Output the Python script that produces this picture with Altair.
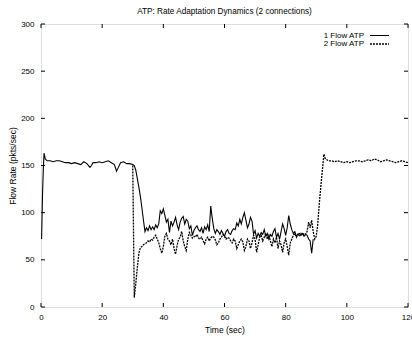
import altair as alt
import pandas as pd

# ---------------- text ----------------
chart_title = "ATP: Rate Adaptation Dynamics (2 connections)"
x_title = "Time (sec)"
y_title = "Flow Rate (pkts/sec)"
series = ["1 Flow ATP", "2 Flow ATP"]
x_ticks = [0, 20, 40, 60, 80, 100, 120]
y_ticks = [0, 50, 100, 150, 200, 250, 300]

# ---------------- data ----------------
time_mid = [
    34.0, 34.5, 35.0, 35.5, 36.0, 36.5, 37.0, 37.5, 38.0, 38.5,
    39.0, 39.5, 40.0, 40.5, 41.0, 41.5, 42.0, 42.5, 43.0, 43.5,
    44.0, 44.5, 45.0, 45.5, 46.0, 46.5, 47.0, 47.5, 48.0, 48.5,
    49.0, 49.5, 50.0, 50.5, 51.0, 51.5, 52.0, 52.5, 53.0, 53.5,
    54.0, 54.5, 55.0, 55.5, 56.0, 56.5, 57.0, 57.5, 58.0, 58.5,
    59.0, 59.5, 60.0, 60.5, 61.0, 61.5, 62.0, 62.5, 63.0, 63.5,
    64.0, 64.5, 65.0, 65.5, 66.0, 66.5, 67.0, 67.5, 68.0, 68.5,
    69.0, 69.5, 70.0, 70.5, 71.0, 71.5, 72.0, 72.5, 73.0, 73.5,
    74.0, 74.5, 75.0, 75.5, 76.0, 76.5, 77.0, 77.5, 78.0, 78.5,
    79.0, 79.5, 80.0, 80.5, 81.0, 81.5, 82.0, 82.5, 83.0, 83.5,
    84.0, 84.5, 85.0, 85.5, 86.0, 86.5, 87.0, 87.5, 88.0, 88.5,
    89.0, 89.5, 90.0,
]

flow1_time_start = [0.2, 0.5, 0.8, 1.0, 1.4, 2, 3, 4, 5, 6, 7, 8, 9, 10, 11,
                    12, 13, 14, 15, 16, 16.5, 17, 18, 19, 20, 21, 22, 23, 24,
                    24.7, 25.3, 26, 27, 28, 29, 30, 30.5, 31, 31.5, 32, 32.5,
                    33, 33.5]
flow1_rate_start = [72, 120, 150, 163, 157, 155, 155, 154, 155, 155, 154, 153,
                    153, 152, 153, 152, 151, 154, 152, 148, 150, 153, 153, 154,
                    153, 154, 155, 153, 151, 144, 148, 153, 154, 152, 152, 151,
                    150, 145, 136, 127, 117, 105, 92]
flow1_rate_mid = [
    80, 84, 81, 86, 82, 85, 82, 87, 84, 88,
    102, 99, 104, 97, 90, 93, 79, 91, 86, 90,
    95, 87, 82, 90, 94, 96, 88, 93, 91, 83,
    86, 76, 81, 84, 86, 82, 80, 84, 78, 85,
    82, 87, 80, 107, 94, 83, 78, 82, 80, 77,
    81, 78, 75, 80, 82, 78, 77, 81, 83, 82,
    89, 86, 93, 88, 95, 100, 92, 84, 88, 95,
    91, 77, 81, 73, 78, 75, 79, 77, 82, 75,
    78, 72, 77, 75, 80, 83, 74, 78, 72, 80,
    88, 83, 76, 84, 97, 88, 82, 78, 80, 75,
    77, 78, 76, 78, 75, 77, 76, 72, 70, 57,
    72,
]

flow2_time_start = [30.0, 30.5, 31.0, 31.5, 32.0, 32.5, 33.0, 33.5]
flow2_rate_start = [150, 10, 25, 42, 57, 63, 64, 66]
flow2_rate_mid = [
    67, 68, 70, 69, 72, 71, 74, 76, 72, 68,
    62, 57, 64, 75, 78, 72, 70, 66, 72, 62,
    56, 65, 72, 74, 80, 70, 64, 60, 72, 79,
    76, 73, 75, 74, 77, 73, 72, 74, 70, 67,
    72, 74, 70, 73, 75, 74, 71, 66, 68, 72,
    74, 77, 75, 72, 74, 73, 70, 68, 72, 70,
    62, 66, 70, 72, 69, 60, 64, 72, 70, 62,
    68, 76, 72, 58, 66, 74, 76, 70, 74, 78,
    72, 76, 70, 64, 72, 68, 74, 62, 70, 66,
    58, 68, 72, 64, 55, 68, 72, 76, 78, 74,
    77, 75, 78, 76, 78, 77, 80, 90, 84, 92,
    80, 72, 75,
]
flow2_time_end = [90.5, 91.0, 91.5, 92.0, 92.5, 93, 94, 95, 96, 97, 98, 99,
                  100, 101, 102, 103, 104, 105, 106, 107, 108, 109, 110, 111,
                  112, 113, 114, 115, 116, 117, 118, 119, 120]
flow2_rate_end = [88, 110, 128, 145, 162, 157, 155, 155, 154, 155, 154, 153,
                  154, 153, 154, 155, 155, 154, 155, 156, 155, 157, 156, 154,
                  155, 156, 155, 154, 153, 154, 155, 154, 153]

df1 = pd.DataFrame({
    "time": flow1_time_start + time_mid[:len(flow1_rate_mid)],
    "rate": flow1_rate_start + flow1_rate_mid,
})
df2 = pd.DataFrame({
    "time": flow2_time_start + time_mid[:len(flow2_rate_mid)] + flow2_time_end,
    "rate": flow2_rate_start + flow2_rate_mid + flow2_rate_end,
})

# ---------------- layout ----------------
W, H = 367, 283
FONT = "Liberation Sans"
TICK = 4

xs = alt.Scale(domain=[0, 120], nice=False, zero=False)
ys = alt.Scale(domain=[0, 300], nice=False, zero=False)

axis_style = dict(labelFont=FONT, labelFontSize=8, labelColor="black",
                  titleFont=FONT, titleFontSize=8.5, titleFontWeight="normal",
                  titleColor="black", grid=False, domain=False, ticks=False,
                  format="d")
x_axis = alt.Axis(values=x_ticks, title=x_title, labelPadding=6, titlePadding=4,
                  labelFlush=False, **axis_style)
y_axis = alt.Axis(values=y_ticks, title=y_title, labelPadding=7, titlePadding=3,
                  **axis_style)

line1 = alt.Chart(df1).mark_line(color="black", strokeWidth=1.1).encode(
    x=alt.X("time:Q", scale=xs, axis=x_axis),
    y=alt.Y("rate:Q", scale=ys, axis=y_axis),
)
line2 = alt.Chart(df2).mark_line(color="black", strokeWidth=1.3,
                                 strokeDash=[2, 1]).encode(
    x=alt.X("time:Q", scale=xs, axis=x_axis),
    y=alt.Y("rate:Q", scale=ys, axis=y_axis),
)

xt = pd.DataFrame({"v": x_ticks})
yt = pd.DataFrame({"v": y_ticks})
tick_bottom = alt.Chart(xt).mark_rule(color="black", strokeWidth=1).encode(
    x=alt.X("v:Q", scale=xs, axis=x_axis), y=alt.value(H), y2=alt.value(H - TICK))
tick_top = alt.Chart(xt).mark_rule(color="black", strokeWidth=1).encode(
    x=alt.X("v:Q", scale=xs, axis=x_axis), y=alt.value(0), y2=alt.value(TICK))
tick_left = alt.Chart(yt).mark_rule(color="black", strokeWidth=1).encode(
    y=alt.Y("v:Q", scale=ys, axis=y_axis), x=alt.value(0), x2=alt.value(TICK))
tick_right = alt.Chart(yt).mark_rule(color="black", strokeWidth=1).encode(
    y=alt.Y("v:Q", scale=ys, axis=y_axis), x=alt.value(W), x2=alt.value(W - TICK))

legend_layers = []
dashes = [[1, 0], [2, 1]]
widths = [1.1, 1.3]
for i, name in enumerate(series):
    yy = 11.5 + 8.5 * i
    ld = pd.DataFrame({"flow": [name]})
    legend_layers.append(
        alt.Chart(ld).mark_text(align="right", baseline="middle", font=FONT,
                                fontSize=8, color="black").encode(
            text="flow:N", x=alt.value(323), y=alt.value(yy)))
    legend_layers.append(
        alt.Chart(ld).mark_rule(color="black", strokeWidth=widths[i],
                                strokeDash=dashes[i]).encode(
            x=alt.value(329), x2=alt.value(348), y=alt.value(yy)))

chart = alt.layer(
    line1, line2, tick_bottom, tick_top, tick_left, tick_right, *legend_layers
).properties(
    width=W, height=H,
    autosize=alt.AutoSizeParams(type="none"),
    padding={"left": 41, "top": 24, "right": 4, "bottom": 32},
    title=alt.TitleParams(text=chart_title, font=FONT, fontSize=8.2,
                          fontWeight="normal", offset=4, anchor="middle",
                          color="black"),
).configure_view(
    stroke="black", strokeWidth=1
).configure(background="white")

chart.save("out.html", embed_options={"renderer": "svg", "actions": False})
